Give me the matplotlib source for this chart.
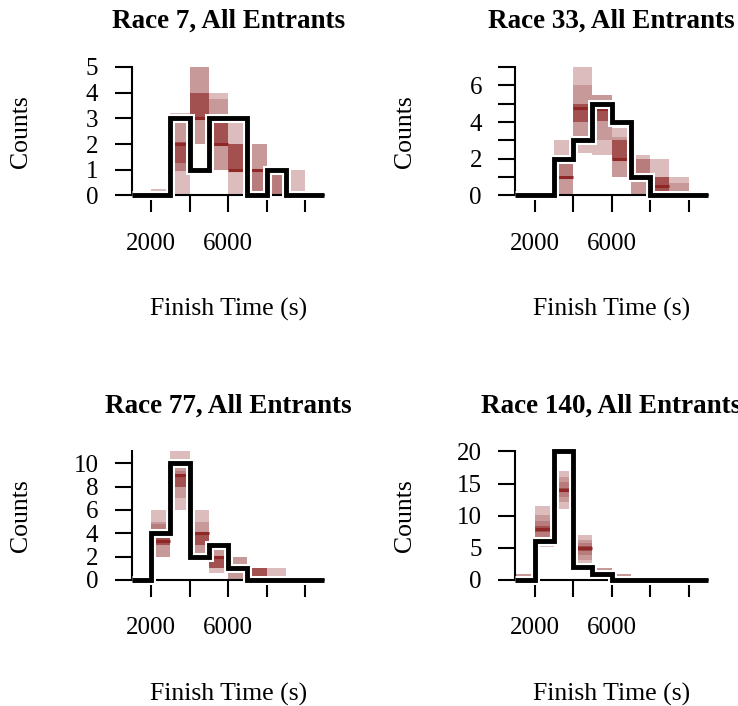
import numpy as np
import matplotlib.pyplot as plt

plt.rcParams['font.family'] = 'serif'
plt.rcParams['font.serif'] = ['Liberation Serif', 'DejaVu Serif']

c_light = "#DCBCBC"
c_light_highlight = "#C79999"
c_mid = "#B97C7C"
c_mid_highlight = "#A25050"
c_dark = "#8F2727"

# finish time bins (s)
bin_edges = [1000, 2000, 3000, 4000, 5000, 6000, 7000, 8000, 9000, 10000, 11000]

race_names = ['Race 7', 'Race 33', 'Race 77', 'Race 140']

# observed counts per bin
race7_obs = [0, 0, 3, 1, 3, 3, 0, 1, 0, 0]
race33_obs = [0, 0, 2, 3, 5, 4, 1, 0, 0, 0]
race77_obs = [0, 4, 10, 2, 3, 1, 0, 0, 0, 0]
race140_obs = [0, 6, 20, 2, 1, 0, 0, 0, 0, 0]

# posterior predictive quantiles per bin: 10%, 20%, ..., 90%
race7_quants = [
    [0, 0, 0, 0, 0, 0, 0, 0, 0],
    [0, 0, 0, 0, 0, 0, 0, 0, 0.25],
    [0, 0.95, 0.95, 1.25, 2, 2.1, 2.1, 2.9, 3.2],
    [2, 2, 3, 3, 3, 4, 4, 5, 5],
    [1, 1, 2, 2, 2, 3, 3, 3.75, 4],
    [0, 1, 1, 1, 1, 2, 2, 2, 3],
    [0, 0, 0, 1, 1, 1, 1, 2, 2],
    [0, 0, 0, 0, 0, 0, 1, 1, 1],
    [0, 0, 0, 0, 0, 0, 0, 0, 1],
    [0, 0, 0, 0, 0, 0, 0, 0, 0],
]
race33_quants = [
    [0, 0, 0, 0, 0, 0, 0, 0, 0],
    [0, 0, 0, 0, 0, 0, 0, 0, 0],
    [0, 0, 1, 1, 1, 1, 1.8, 2, 3],
    [2.3, 3.2, 4, 4, 4.75, 5, 5, 6, 7],
    [2.2, 3.05, 4.05, 4.05, 4.7, 5, 5, 5.5, 5.5],
    [1, 1, 2, 2, 2, 3, 3, 3.2, 3.7],
    [0, 0, 1, 1, 1, 1, 2, 2, 2.2],
    [0, 0, 0, 0, 0.5, 1, 1, 1, 2],
    [0, 0, 0, 0, 0, 0, 0, 0.7, 1],
    [0, 0, 0, 0, 0, 0, 0, 0, 0],
]
race77_quants = [
    [0, 0, 0, 0, 0, 0, 0, 0, 0],
    [2, 2, 3, 3, 3.3, 3.6, 4.75, 5, 6],
    [6, 7, 8, 8, 9, 9, 9.3, 10, 11],
    [2, 2, 3, 3, 4, 4, 4, 5, 6],
    [0.6, 1, 1, 1, 2, 2, 2, 2.6, 2.6],
    [0, 0, 1, 1, 1, 1, 1, 2, 2],
    [0, 0, 0, 0, 0, 1, 1, 1, 1],
    [0, 0, 0, 0, 0, 0, 0, 0, 1],
    [0, 0, 0, 0, 0, 0, 0, 0, 0],
    [0, 0, 0, 0, 0, 0, 0, 0, 0],
]
race140_quants = [
    [0, 0, 0, 0, 0, 0, 0, 1, 1],
    [5.2, 6.5, 6.7, 7.4, 8, 8.4, 9.15, 10.1, 11.5],
    [11.1, 12.1, 12.9, 13.7, 14, 14.3, 15.2, 16, 17],
    [2.6, 3.1, 3.9, 4.5, 5, 5.3, 5.8, 6.2, 7],
    [0.2, 0.2, 1, 1, 1, 1, 1, 1.8, 1.8],
    [0, 0, 0, 0, 0, 0, 0, 0.9, 0.9],
    [0, 0, 0, 0, 0, 0, 0, 0, 0],
    [0, 0, 0, 0, 0, 0, 0, 0, 0],
    [0, 0, 0, 0, 0, 0, 0, 0, 0],
    [0, 0, 0, 0, 0, 0, 0, 0, 0],
]

x_ticks = [2000, 4000, 6000, 8000, 10000]
x_ticklabels = ['2000', '', '6000', '', '']

race7_yticks = [0, 1, 2, 3, 4, 5]
race7_yticklabels = ['0', '1', '2', '3', '4', '5']
race33_yticks = [0, 1, 2, 3, 4, 5, 6, 7]
race33_yticklabels = ['0', '', '2', '', '4', '', '6', '']
race77_yticks = [0, 2, 4, 6, 8, 10]
race77_yticklabels = ['0', '2', '4', '6', '8', '10']
race140_yticks = [0, 5, 10, 15, 20]
race140_yticklabels = ['0', '5', '10', '15', '20']


def plot_hist_quantiles(ax, quants, obs, title, yticks, yticklabels):
    q = np.array(quants)
    for i in range(len(bin_edges) - 1):
        x = [bin_edges[i], bin_edges[i + 1]]
        ax.fill_between(x, q[i, 0], q[i, 8], color=c_light, lw=0)
        ax.fill_between(x, q[i, 1], q[i, 7], color=c_light_highlight, lw=0)
        ax.fill_between(x, q[i, 2], q[i, 6], color=c_mid, lw=0)
        ax.fill_between(x, q[i, 3], q[i, 5], color=c_mid_highlight, lw=0)
        ax.plot(x, [q[i, 4], q[i, 4]], color=c_dark, lw=2.2, solid_capstyle='butt')

    # observed histogram, white halo under black step line
    xs = np.repeat(bin_edges, 2)[1:-1]
    ys = np.repeat(obs, 2)
    ax.plot(xs, ys, color='white', lw=6.5, zorder=3, clip_on=False,
            solid_joinstyle='miter', solid_capstyle='butt')
    ax.plot(xs, ys, color='black', lw=3.5, zorder=3, clip_on=False,
            solid_joinstyle='miter', solid_capstyle='butt')

    ax.set_xlim(bin_edges[0], bin_edges[-1])
    ax.set_ylim(0, max(q.max(), max(obs)))
    ax.set_xticks(x_ticks)
    ax.set_xticklabels(x_ticklabels)
    ax.set_yticks(yticks)
    ax.set_yticklabels(yticklabels)

    ax.spines['top'].set_visible(False)
    ax.spines['right'].set_visible(False)
    ax.spines['left'].set_linewidth(1.5)
    ax.spines['bottom'].set_linewidth(1.5)
    ax.tick_params(direction='out', length=12, width=1.5, labelsize=18)
    ax.tick_params(axis='x', pad=15)
    ax.tick_params(axis='y', pad=12)

    ax.set_title(title + ', All Entrants', fontsize=19.5, fontweight='bold', pad=28)
    ax.set_xlabel('Finish Time (s)', fontsize=18.5)
    ax.set_ylabel('Counts', fontsize=18.5)
    ax.xaxis.set_label_coords(0.5, -0.80)
    ax.yaxis.set_label_coords(-0.515, 0.5)


fig = plt.figure(figsize=(7.38, 7.06), dpi=100)
ax1 = fig.add_axes([0.1785, 0.7231, 0.2611, 0.1820])
ax2 = fig.add_axes([0.6982, 0.7231, 0.2611, 0.1820])
ax3 = fig.add_axes([0.1785, 0.1785, 0.2611, 0.1820])
ax4 = fig.add_axes([0.6982, 0.1785, 0.2611, 0.1820])

plot_hist_quantiles(ax1, race7_quants, race7_obs, race_names[0], race7_yticks, race7_yticklabels)
plot_hist_quantiles(ax2, race33_quants, race33_obs, race_names[1], race33_yticks, race33_yticklabels)
plot_hist_quantiles(ax3, race77_quants, race77_obs, race_names[2], race77_yticks, race77_yticklabels)
plot_hist_quantiles(ax4, race140_quants, race140_obs, race_names[3], race140_yticks, race140_yticklabels)

fig.savefig('out.png', dpi=100)
